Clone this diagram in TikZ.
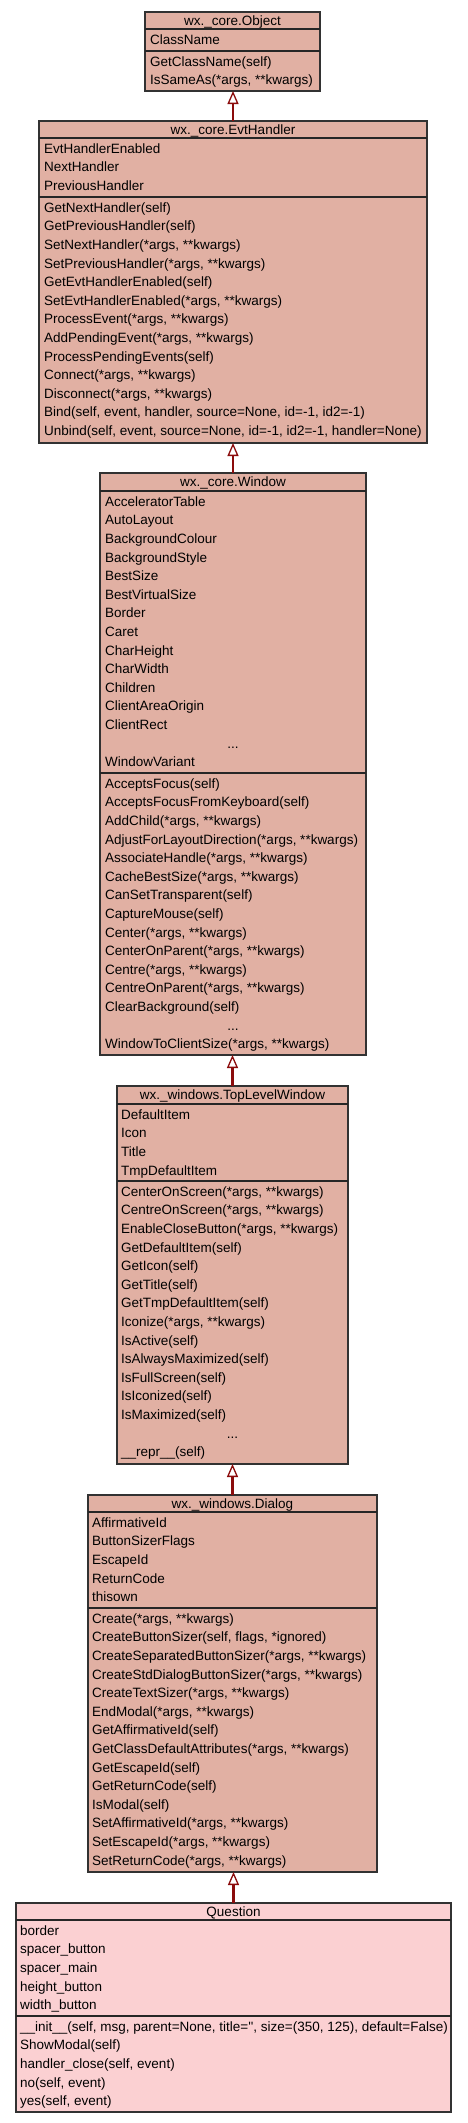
\documentclass[tikz,border=0pt]{standalone}
\usepackage{fontspec}
\setmainfont{Liberation Sans}
\usetikzlibrary{arrows.meta}
\definecolor{classfill}{RGB}{225,176,163}
\definecolor{leaffill}{RGB}{251,208,210}
\definecolor{inheritred}{RGB}{139,12,12}
\definecolor{boxline}{RGB}{50,50,50}
\tikzset{
  classbox/.style={rectangle, draw=boxline, fill=classfill, line width=1.3pt, inner sep=0pt, outer sep=0pt, anchor=north west},
  leafbox/.style={classbox, fill=leaffill},
  sepline/.style={line width=1.3pt, color=black!85},
  classname/.style={anchor=base, inner sep=0pt, font=\fontsize{13.5}{16}\selectfont},
  member/.style={anchor=base west, inner sep=0pt, font=\fontsize{13.5}{16}\selectfont},
  inherit/.style={line width=2.6pt, color=inheritred, -{Triangle[open, length=13pt, width=11pt, line width=1.3pt]}},
}
\def\rowpitch{18.6}

\begin{document}
\begin{tikzpicture}[x=1pt,y=-1pt]
		%%%%% START %%%%%
		\fill[white] (0,0) rectangle (467,2123);
		\useasboundingbox (0,0) rectangle (467,2123);

		% wx._core.Object
		\node[classbox, minimum width=175pt, minimum height=79pt] (object) at (145,12) {};
		\draw[sepline] ([yshift=-17pt]object.north west) -- ([yshift=-17pt]object.north east);
		\draw[sepline] ([yshift=-39pt]object.north west) -- ([yshift=-39pt]object.north east);
		\node[classname] (object-name) at (232.5,25.5) {wx.\_core.Object};
		\foreach \txt [count=\i] in {{ClassName}}
			\node[member] (object-a\i) at (150,{29+6+(\i-0.5)*\rowpitch}) {\txt};
		\foreach \txt [count=\i] in {{GetClassName(self)},{IsSameAs(*args, **kwargs)}}
			\node[member] (object-m\i) at (150,{51+6+(\i-0.5)*\rowpitch}) {\txt};

		% wx._core.EvtHandler
		\node[classbox, minimum width=388pt, minimum height=322pt] (evthandler) at (39,121) {};
		\draw[sepline] ([yshift=-17pt]evthandler.north west) -- ([yshift=-17pt]evthandler.north east);
		\draw[sepline] ([yshift=-76pt]evthandler.north west) -- ([yshift=-76pt]evthandler.north east);
		\node[classname] (evthandler-name) at (233,134.5) {wx.\_core.EvtHandler};
		\foreach \txt [count=\i] in {{EvtHandlerEnabled},{NextHandler},{PreviousHandler}}
			\node[member] (evthandler-a\i) at (44,{138+6+(\i-0.5)*\rowpitch}) {\txt};
		\foreach \txt [count=\i] in {{GetNextHandler(self)},{GetPreviousHandler(self)},
				{SetNextHandler(*args, **kwargs)},{SetPreviousHandler(*args, **kwargs)},
				{GetEvtHandlerEnabled(self)},{SetEvtHandlerEnabled(*args, **kwargs)},
				{ProcessEvent(*args, **kwargs)},{AddPendingEvent(*args, **kwargs)},
				{ProcessPendingEvents(self)},{Connect(*args, **kwargs)},{Disconnect(*args, **kwargs)},
				{Bind(self, event, handler, source=None, id=-1, id2=-1)},
				{Unbind(self, event, source=None, id=-1, id2=-1, handler=None)}}
			\node[member] (evthandler-m\i) at (44,{197+6+(\i-0.5)*\rowpitch}) {\txt};

		% wx._core.Window
		\node[classbox, minimum width=266pt, minimum height=582pt] (window) at (100,473) {};
		\draw[sepline] ([yshift=-18pt]window.north west) -- ([yshift=-18pt]window.north east);
		\draw[sepline] ([yshift=-300pt]window.north west) -- ([yshift=-300pt]window.north east);
		\node[classname] (window-name) at (233,486.5) {wx.\_core.Window};
		\foreach \txt [count=\i] in {{AcceleratorTable},{AutoLayout},{BackgroundColour},
				{BackgroundStyle},{BestSize},{BestVirtualSize},{Border},{Caret},{CharHeight},
				{CharWidth},{Children},{ClientAreaOrigin},{ClientRect}}
			\node[member] (window-a\i) at (105,{491+6+(\i-0.5)*\rowpitch}) {\txt};
		\node[classname] (window-a14) at (233,{491+6+13.5*\rowpitch}) {...};
		\node[member] (window-a15) at (105,{491+6+14.5*\rowpitch}) {WindowVariant};
		\foreach \txt [count=\i] in {{AcceptsFocus(self)},{AcceptsFocusFromKeyboard(self)},
				{AddChild(*args, **kwargs)},{AdjustForLayoutDirection(*args, **kwargs)},
				{AssociateHandle(*args, **kwargs)},{CacheBestSize(*args, **kwargs)},
				{CanSetTransparent(self)},{CaptureMouse(self)},{Center(*args, **kwargs)},
				{CenterOnParent(*args, **kwargs)},{Centre(*args, **kwargs)},
				{CentreOnParent(*args, **kwargs)},{ClearBackground(self)}}
			\node[member] (window-m\i) at (105,{773+6+(\i-0.5)*\rowpitch}) {\txt};
		\node[classname] (window-m14) at (233,{773+6+13.5*\rowpitch}) {...};
		\node[member] (window-m15) at (105,{773+6+14.5*\rowpitch}) {WindowToClientSize(*args, **kwargs)};

		% wx._windows.TopLevelWindow
		\node[classbox, minimum width=231pt, minimum height=378pt] (toplevel) at (117,1086) {};
		\draw[sepline] ([yshift=-18pt]toplevel.north west) -- ([yshift=-18pt]toplevel.north east);
		\draw[sepline] ([yshift=-95pt]toplevel.north west) -- ([yshift=-95pt]toplevel.north east);
		\node[classname] (toplevel-name) at (232.5,1099.5) {wx.\_windows.TopLevelWindow};
		\foreach \txt [count=\i] in {{DefaultItem},{Icon},{Title},{TmpDefaultItem}}
			\node[member] (toplevel-a\i) at (121,{1104+6+(\i-0.5)*\rowpitch}) {\txt};
		\foreach \txt [count=\i] in {{CenterOnScreen(*args, **kwargs)},{CentreOnScreen(*args, **kwargs)},
				{EnableCloseButton(*args, **kwargs)},{GetDefaultItem(self)},{GetIcon(self)},
				{GetTitle(self)},{GetTmpDefaultItem(self)},{Iconize(*args, **kwargs)},
				{IsActive(self)},{IsAlwaysMaximized(self)},{IsFullScreen(self)},
				{IsIconized(self)},{IsMaximized(self)}}
			\node[member] (toplevel-m\i) at (121,{1181+6+(\i-0.5)*\rowpitch}) {\txt};
		\node[classname] (toplevel-m14) at (232.5,{1181+6+13.5*\rowpitch}) {...};
		\node[member] (toplevel-m15) at (121,{1181+6+14.5*\rowpitch}) {\_\_repr\_\_(self)};

		% wx._windows.Dialog
		\node[classbox, minimum width=289pt, minimum height=377pt] (dialog) at (88,1495) {};
		\draw[sepline] ([yshift=-17pt]dialog.north west) -- ([yshift=-17pt]dialog.north east);
		\draw[sepline] ([yshift=-113pt]dialog.north west) -- ([yshift=-113pt]dialog.north east);
		\node[classname] (dialog-name) at (232.5,1508.5) {wx.\_windows.Dialog};
		\foreach \txt [count=\i] in {{AffirmativeId},{ButtonSizerFlags},{EscapeId},{ReturnCode},{thisown}}
			\node[member] (dialog-a\i) at (92,{1512+6+(\i-0.5)*\rowpitch}) {\txt};
		\foreach \txt [count=\i] in {{Create(*args, **kwargs)},{CreateButtonSizer(self, flags, *ignored)},
				{CreateSeparatedButtonSizer(*args, **kwargs)},{CreateStdDialogButtonSizer(*args, **kwargs)},
				{CreateTextSizer(*args, **kwargs)},{EndModal(*args, **kwargs)},{GetAffirmativeId(self)},
				{GetClassDefaultAttributes(*args, **kwargs)},{GetEscapeId(self)},{GetReturnCode(self)},
				{IsModal(self)},{SetAffirmativeId(*args, **kwargs)},{SetEscapeId(*args, **kwargs)},
				{SetReturnCode(*args, **kwargs)}}
			\node[member] (dialog-m\i) at (92,{1608+6+(\i-0.5)*\rowpitch}) {\txt};

		% Question
		\node[leafbox, minimum width=435pt, minimum height=209pt] (question) at (16,1903) {};
		\draw[sepline] ([yshift=-17pt]question.north west) -- ([yshift=-17pt]question.north east);
		\draw[sepline] ([yshift=-113pt]question.north west) -- ([yshift=-113pt]question.north east);
		\node[classname] (question-name) at (233.5,1916.5) {Question};
		\foreach \txt [count=\i] in {{border},{spacer\_button},{spacer\_main},{height\_button},{width\_button}}
			\node[member] (question-a\i) at (20,{1920+6+(\i-0.5)*\rowpitch}) {\txt};
		\foreach \txt [count=\i] in {{\_\_init\_\_(self, msg, parent=None, title=\textquotesingle\textquotesingle, size=(350, 125), default=False)},
				{ShowModal(self)},{handler\_close(self, event)},{no(self, event)},{yes(self, event)}}
			\node[member] (question-m\i) at (20,{2016+6+(\i-0.5)*\rowpitch}) {\txt};

		% inheritance
		\draw[inherit] (evthandler.north) -- (evthandler.north |- object.south);
		\draw[inherit] (window.north) -- (window.north |- evthandler.south);
		\draw[inherit] (toplevel.north) -- (toplevel.north |- window.south);
		\draw[inherit] (dialog.north) -- (dialog.north |- toplevel.south);
		\draw[inherit] (question.north) -- (question.north |- dialog.south);
		%%%%% END %%%%%
\end{tikzpicture}
\end{document}
